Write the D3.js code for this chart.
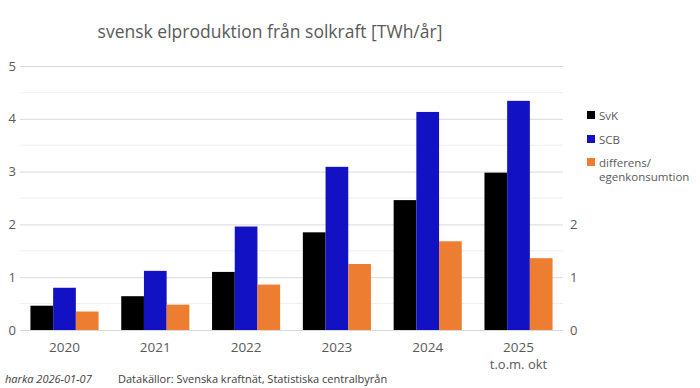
<!DOCTYPE html>
<html>
<head>
<meta charset="utf-8">
<script src="https://cdn.jsdelivr.net/npm/d3@7"></script>
<style>
  body { margin: 0; background: #fff; }
  svg text { font-family: "Open Sans", "Noto Sans", sans-serif; fill: #595959; }
</style>
</head>
<body>
<svg id="chart"></svg>
<script>
//chart data
var years = ['2020', '2021', '2022', '2023', '2024', '2025'];
var svk = [0.46, 0.64, 1.10, 1.85, 2.46, 2.98];
var scb = [0.80, 1.12, 1.96, 3.09, 4.13, 4.34];
var diff = [0.35, 0.48, 0.86, 1.25, 1.68, 1.36];
var seriesNames = ['SvK', 'SCB', 'differens/', 'egenkonsumtion'];
var seriesColors = ['#000000', '#1212c4', '#ed7d31'];
var leftTicks = [0, 1, 2, 3, 4, 5];
var rightTicks = [0, 1, 2];

//chart parameters
var svg = d3.select('#chart')
    .attr('width', 700)
    .attr('height', 388);

//define plot extent
var x0 = 20, x1 = 563, yTop = 66, yBase = 330;

//define scales
var xScale = d3.scaleBand().domain(years).range([x0, x1]).paddingInner(0.25).paddingOuter(0.115),
    subScale = d3.scaleBand().domain([0, 1, 2]).range([0, xScale.bandwidth()]),
    yScale = d3.scaleLinear().domain([0, 5]).range([yBase, yTop]);

//title
svg.append('text')
    .attr('x', 270)
    .attr('y', 38)
    .attr('text-anchor', 'middle')
    .style('font-size', '17.5px')
    .text('svensk elproduktion från solkraft [TWh/år]');

//minor gridlines
svg.append('g')
    .selectAll('line')
    .data(d3.range(0.5, 5, 1))
    .enter().append('line')
        .attr('x1', x0).attr('x2', x1)
        .attr('y1', d => yScale(d)).attr('y2', d => yScale(d))
        .style('stroke', '#eeeeee');

//major gridlines via axis
var grid = svg.append('g')
    .attr('transform', 'translate(' + x0 + ',0)')
    .call(d3.axisLeft(yScale).tickValues(leftTicks).tickSize(-(x1 - x0)).tickFormat(''));
grid.select('.domain').remove();
grid.selectAll('line').style('stroke', '#d9d9d9');

//left axis labels
var leftAxis = svg.append('g')
    .attr('transform', 'translate(' + x0 + ',0)')
    .call(d3.axisLeft(yScale).tickValues(leftTicks).tickFormat(d3.format('d')).tickSize(0).tickPadding(4));
leftAxis.select('.domain').remove();
leftAxis.selectAll('text').style('font-size', '13px').style('font-family', '"Open Sans", sans-serif').style('fill', '#595959');

//right axis labels
var rightAxis = svg.append('g')
    .attr('transform', 'translate(' + x1 + ',0)')
    .call(d3.axisRight(yScale).tickValues(rightTicks).tickFormat(d3.format('d')).tickSize(0).tickPadding(7));
rightAxis.select('.domain').remove();
rightAxis.selectAll('text').style('font-size', '13px').style('font-family', '"Open Sans", sans-serif').style('fill', '#595959');

//bars
var rows = years.map((y, i) => ({year: y, vals: [svk[i], scb[i], diff[i]]}));
var group = svg.selectAll('.grp').data(rows)
    .enter().append('g')
        .attr('class', 'grp')
        .attr('transform', d => 'translate(' + xScale(d.year) + ',0)');
group.selectAll('rect')
    .data(d => d.vals)
    .enter().append('rect')
        .attr('x', (d, i) => subScale(i))
        .attr('y', d => yScale(d))
        .attr('width', subScale.bandwidth())
        .attr('height', d => yBase - yScale(d))
        .style('fill', (d, i) => seriesColors[i]);

//x axis labels
var xAxis = svg.append('g')
    .attr('transform', 'translate(0,' + yBase + ')')
    .call(d3.axisBottom(xScale).tickSize(0).tickPadding(12));
xAxis.select('.domain').remove();
xAxis.selectAll('text').style('font-size', '13.5px').style('font-family', '"Open Sans", sans-serif').style('fill', '#595959');
svg.append('text')
    .attr('x', xScale('2025') + xScale.bandwidth() / 2)
    .attr('y', 369)
    .attr('text-anchor', 'middle')
    .style('font-size', '13px')
    .text('t.o.m. okt');

//legend
var legendY = [120, 144, 167, 181];
svg.append('g').selectAll('rect').data(seriesColors)
    .enter().append('rect')
        .attr('x', 587).attr('y', (d, i) => legendY[i] - 9)
        .attr('width', 8).attr('height', 8)
        .style('fill', d => d);
svg.append('g').selectAll('text').data(seriesNames)
    .enter().append('text')
        .attr('x', 599)
        .attr('y', (d, i) => legendY[i])
        .style('font-size', '11.5px')
        .text(d => d);

//footer
svg.append('text')
    .attr('x', 5).attr('y', 383)
    .style('font-size', '11px')
    .style('font-style', 'italic')
    .style('fill', '#404040')
    .text('harka 2026-01-07');
svg.append('text')
    .attr('x', 118).attr('y', 383)
    .style('font-size', '11px')
    .style('fill', '#404040')
    .text('Datakällor: Svenska kraftnät, Statistiska centralbyrån');
</script>
</body>
</html>
